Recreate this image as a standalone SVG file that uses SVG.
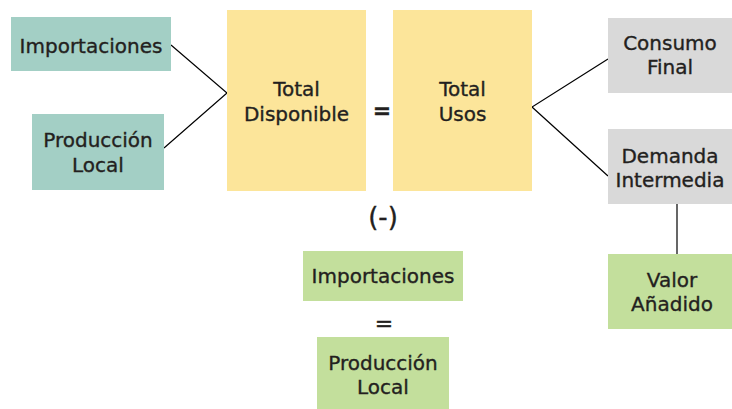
<svg xmlns="http://www.w3.org/2000/svg" width="732" height="409" viewBox="0 0 732 409">
<style>
.t{font-family:"DejaVu Sans","Liberation Sans",sans-serif;font-size:20px;fill:#231f20;stroke:#231f20;stroke-width:0.35;text-anchor:middle}
.teal{fill:#a3cfc5}
.yel{fill:#fce59a}
.gray{fill:#d9d9d9}
.grn{fill:#c3df9c}
.ln{stroke:#000;stroke-width:1.2;fill:none}
</style>
<rect width="732" height="409" fill="#fff"/>
<g id="connectors">
<polyline class="ln" points="171,45 227,93 164,148"/>
<polyline class="ln" points="608,59 532,107 608,176"/>
<line class="ln" x1="677" y1="204" x2="677" y2="254"/>
</g>
<g id="importaciones">
<rect class="teal" x="11" y="17" width="160" height="54"/>
<text class="t" x="91" y="53">Importaciones</text>
</g>
<g id="produccion-local">
<rect class="teal" x="32" y="114" width="132" height="76"/>
<text class="t" x="98" y="147">Producción</text>
<text class="t" x="98" y="172">Local</text>
</g>
<g id="total-disponible">
<rect class="yel" x="227" y="10" width="139" height="181"/>
<text class="t" x="296.5" y="96">Total</text>
<text class="t" x="296.5" y="121">Disponible</text>
</g>
<g id="igual">
<text class="t" x="382" y="118" style="font-size:22px;font-weight:bold">=</text>
</g>
<g id="total-usos">
<rect class="yel" x="393" y="10" width="139" height="181"/>
<text class="t" x="462.5" y="96">Total</text>
<text class="t" x="462.5" y="121">Usos</text>
</g>
<g id="consumo-final">
<rect class="gray" x="608" y="18" width="124" height="75"/>
<text class="t" x="670" y="50">Consumo</text>
<text class="t" x="670" y="74">Final</text>
</g>
<g id="demanda-intermedia">
<rect class="gray" x="608" y="129" width="124" height="75"/>
<text class="t" x="670" y="163">Demanda</text>
<text class="t" x="670" y="187">Intermedia</text>
</g>
<g id="valor-anadido">
<rect class="grn" x="608" y="254" width="124" height="75"/>
<text class="t" x="672" y="287">Valor</text>
<text class="t" x="672" y="311">Añadido</text>
</g>
<g id="menos">
<text class="t" x="383" y="226" style="font-size:26px">(-)</text>
</g>
<g id="importaciones-2">
<rect class="grn" x="303" y="251" width="160" height="50"/>
<text class="t" x="383" y="283">Importaciones</text>
</g>
<g id="igual-2">
<text class="t" x="384" y="331" style="font-size:22px">=</text>
</g>
<g id="produccion-local-2">
<rect class="grn" x="317" y="337" width="132" height="72"/>
<text class="t" x="383" y="370">Producción</text>
<text class="t" x="383" y="394">Local</text>
</g>
</svg>
